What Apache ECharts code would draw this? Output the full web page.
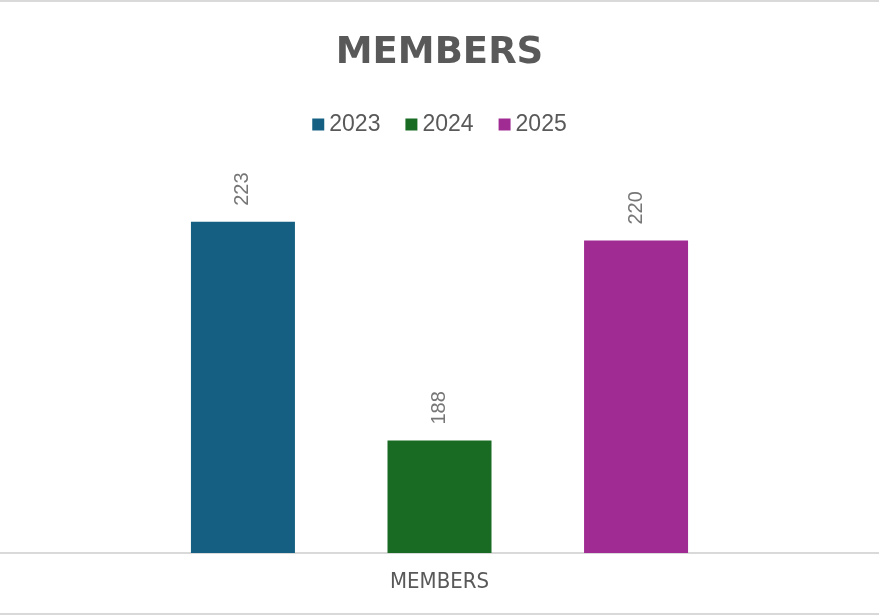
<!DOCTYPE html>
<html>
<head>
<meta charset="utf-8">
<script src="https://cdn.jsdelivr.net/npm/echarts@6/dist/echarts.min.js"></script>
<style>
html,body{margin:0;padding:0;background:#fff;}
#chart{width:879px;height:615px;}
</style>
</head>
<body>
<div id="chart"></div>
<script>
// data
var categories = ['MEMBERS'];
var seriesNames = ['2023', '2024', '2025'];
var seriesValues = [[223], [188], [220]];
var seriesColors = ['#156082', '#196B24', '#A02B93'];

var myChart = echarts.init(document.getElementById('chart'));

var series = [];
for (var i = 0; i < seriesNames.length; i++) {
	series.push({
		name: seriesNames[i],
		type: 'bar',
		data: seriesValues[i],
		barWidth: 104,
		barGap: '89%',
		itemStyle: {color: seriesColors[i]},
		label: {
			show: true,
			position: 'top',
			rotate: 90,
			distance: 16,
			align: 'left',
			verticalAlign: 'middle',
			color: '#767676',
			fontFamily: 'Liberation Sans',
			fontSize: 20
		}
	});
}

var option = {
	animation: false,
	backgroundColor: '#fff',
	title: {
		text: 'MEMBERS',
		left: 'center',
		top: 30,
		textStyle: {
			color: '#595959',
			fontFamily: 'DejaVu Sans',
			fontWeight: 'bold',
			fontSize: 37
		}
	},
	legend: {
		top: 108,
		left: 'center',
		itemWidth: 12,
		itemHeight: 12,
		itemGap: 25,
		icon: 'rect',
		textStyle: {
			color: '#595959',
			fontFamily: 'Liberation Sans',
			fontSize: 23
		},
		data: seriesNames
	},
	grid: {
		left: 0,
		right: 0,
		top: 178,
		bottom: 62
	},
	xAxis: {
		type: 'category',
		data: categories,
		axisLine: {lineStyle: {color: '#d9d9d9', width: 2}},
		axisTick: {show: false},
		axisLabel: {
			color: '#595959',
			fontFamily: 'DejaVu Sans Condensed',
			fontSize: 22,
			margin: 18
		}
	},
	yAxis: {
		type: 'value',
		min: 170,
		max: 230,
		show: false,
		splitLine: {show: false}
	},
	graphic: [
		{type: 'line', shape: {x1: 0, y1: 1, x2: 879, y2: 1}, style: {stroke: '#d9d9d9', lineWidth: 2}},
		{type: 'line', shape: {x1: 0, y1: 614, x2: 879, y2: 614}, style: {stroke: '#d9d9d9', lineWidth: 2}}
	],
	series: series
};

myChart.setOption(option);
</script>
</body>
</html>
